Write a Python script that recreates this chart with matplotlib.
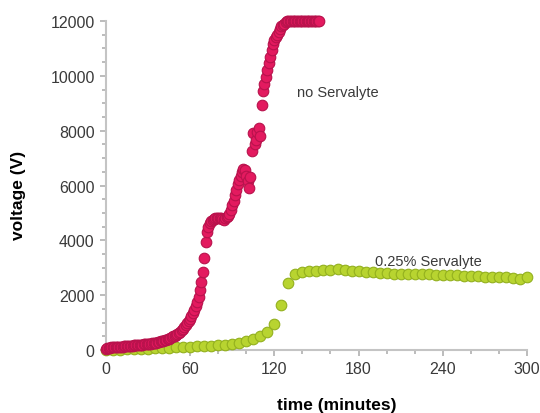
import numpy as np
import matplotlib
matplotlib.use("Agg")
import matplotlib.pyplot as plt
from matplotlib.ticker import MultipleLocator

plt.rcParams['font.family'] = ['Liberation Sans', 'DejaVu Sans']

# Run without Servalyte: voltage sampled every minute
no_serv_time = list(range(0, 153))
no_serv_volt = [
    30, 60, 80, 90, 100, 100, 105, 110, 110, 115,
    120, 125, 130, 135, 140, 145, 150, 155, 160, 165,
    170, 175, 180, 185, 190, 195, 200, 205, 210, 215,
    220, 225, 235, 245, 255, 265, 275, 285, 300, 315,
    330, 345, 360, 380, 400, 420, 445, 470, 500, 530,
    560, 590, 630, 670, 720, 780, 840, 900, 970, 1050,
    1130, 1230, 1340, 1460, 1590, 1740, 1950, 2200, 2500, 2850,
    3350, 3950, 4300, 4500, 4620, 4700, 4750, 4780, 4800, 4820,
    4830, 4820, 4800, 4780, 4760, 4800, 4850, 4900, 4950, 5100,
    5300, 5450, 5650, 5850, 6050, 6200, 6350, 6500, 6600, 6550,
    6350, 6150, 5900, 6300, 7250, 7900, 7500, 7650, 7950, 8100,
    7800, 8950, 9450, 9700, 9950, 10200, 10450, 10700, 10950, 11150,
    11300, 11400, 11500, 11600, 11700, 11800, 11850, 11900, 11950, 12000,
    12000, 12000, 12000, 12000, 12000, 12000, 12000, 12000, 12000, 12000,
    12000, 12000, 12000, 12000, 12000, 12000, 12000, 12000, 12000, 12000,
    12000, 12000, 12000,
]

# Run with 0.25% Servalyte: voltage sampled every 5 minutes
serv_time = list(range(0, 305, 5))
serv_volt = [
    0, 10, 20, 30, 35, 45, 55, 65, 75, 85,
    100, 110, 120, 135, 150, 165, 180, 200, 230, 270,
    330, 420, 520, 650, 950, 1650, 2450, 2770, 2850, 2880,
    2900, 2920, 2930, 2950, 2930, 2900, 2880, 2860, 2840, 2820,
    2800, 2790, 2790, 2780, 2770, 2760, 2760, 2750, 2740, 2730,
    2720, 2710, 2700, 2690, 2680, 2670, 2660, 2650, 2640, 2600,
    2660,
]

fig = plt.figure(figsize=(5.4, 4.14), dpi=100)
ax = fig.add_axes([0.196, 0.152, 0.780, 0.795])

ax.scatter(serv_time, serv_volt, s=58, c='#b8d430', edgecolors='#93b01e',
           linewidths=0.8, zorder=3, clip_on=False)
ax.scatter(no_serv_time, no_serv_volt, s=58, c='#e31a5f', edgecolors='#b8124c',
           linewidths=0.8, zorder=4, clip_on=False)

ax.set_xlim(0, 300)
ax.set_ylim(0, 12000)
ax.xaxis.set_major_locator(MultipleLocator(60))
ax.xaxis.set_minor_locator(MultipleLocator(20))
ax.yaxis.set_major_locator(MultipleLocator(2000))
ax.yaxis.set_minor_locator(MultipleLocator(500))

for side in ('top', 'right'):
    ax.spines[side].set_visible(False)
for side in ('left', 'bottom'):
    ax.spines[side].set_color('#c4c4c4')
    ax.spines[side].set_linewidth(1.5)

ax.tick_params(which='both', direction='out', color='#b0b0b0', width=1.2,
               labelsize=11.5, labelcolor='#3a3a3a')
ax.tick_params(which='major', length=4, pad=4)
ax.tick_params(which='minor', length=3)

ax.set_xlabel('time (minutes)', fontsize=12.5, fontweight='bold')
ax.set_ylabel('voltage (V)', fontsize=12.5, fontweight='bold')
ax.xaxis.set_label_coords(0.549, -0.143)
ax.yaxis.set_label_coords(-0.19, 0.474)

ax.text(136, 9400, 'no Servalyte', fontsize=10.5, color='#3a3a3a',
        va='center', ha='left')
ax.text(192, 3250, '0.25% Servalyte', fontsize=10.5, color='#3a3a3a',
        va='center', ha='left')

fig.savefig('out.png', dpi=100)
